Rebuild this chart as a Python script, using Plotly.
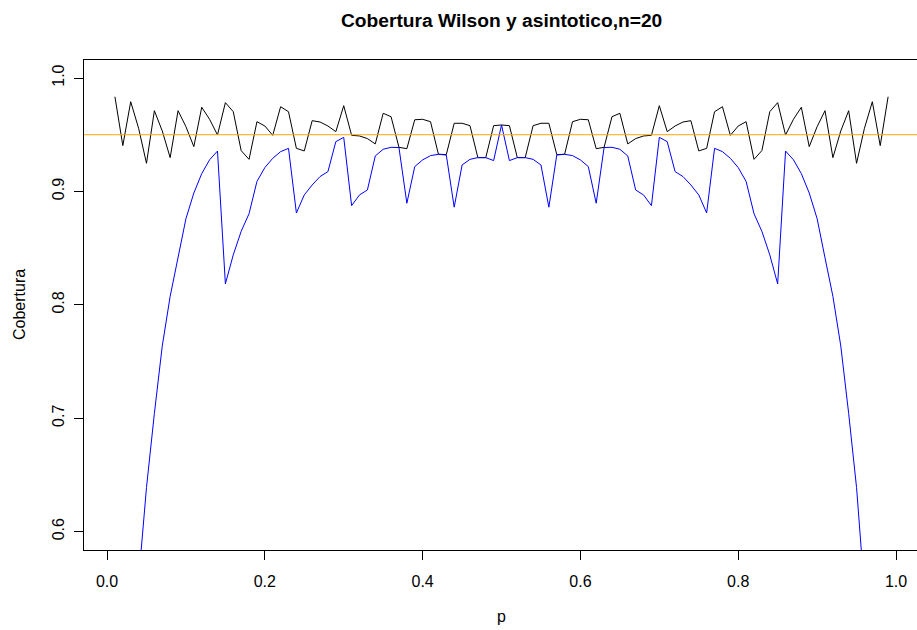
import plotly.graph_objects as go

# Success probability grid
p = [0.01, 0.02, 0.03, 0.04, 0.05, 0.06, 0.07, 0.08, 0.09, 0.10,
     0.11, 0.12, 0.13, 0.14, 0.15, 0.16, 0.17, 0.18, 0.19, 0.20,
     0.21, 0.22, 0.23, 0.24, 0.25, 0.26, 0.27, 0.28, 0.29, 0.30,
     0.31, 0.32, 0.33, 0.34, 0.35, 0.36, 0.37, 0.38, 0.39, 0.40,
     0.41, 0.42, 0.43, 0.44, 0.45, 0.46, 0.47, 0.48, 0.49, 0.50,
     0.51, 0.52, 0.53, 0.54, 0.55, 0.56, 0.57, 0.58, 0.59, 0.60,
     0.61, 0.62, 0.63, 0.64, 0.65, 0.66, 0.67, 0.68, 0.69, 0.70,
     0.71, 0.72, 0.73, 0.74, 0.75, 0.76, 0.77, 0.78, 0.79, 0.80,
     0.81, 0.82, 0.83, 0.84, 0.85, 0.86, 0.87, 0.88, 0.89, 0.90,
     0.91, 0.92, 0.93, 0.94, 0.95, 0.96, 0.97, 0.98, 0.99]

# Coverage of the Wilson interval (n = 20)
cob_wilson = [0.9835, 0.9404, 0.9791, 0.9557, 0.9248, 0.9712, 0.9533, 0.9298, 0.9712, 0.9571,
              0.9395, 0.9742, 0.9636, 0.9498, 0.9783, 0.9703, 0.9360, 0.9283, 0.9615, 0.9577,
              0.9495, 0.9747, 0.9703, 0.9380, 0.9357, 0.9624, 0.9612, 0.9577, 0.9527, 0.9756,
              0.9495, 0.9489, 0.9466, 0.9419, 0.9689, 0.9659, 0.9389, 0.9377, 0.9632, 0.9636,
              0.9615, 0.9328, 0.9325, 0.9601, 0.9601, 0.9580, 0.9298, 0.9298, 0.9580, 0.9586,
              0.9580, 0.9298, 0.9298, 0.9580, 0.9601, 0.9601, 0.9325, 0.9328, 0.9615, 0.9636,
              0.9632, 0.9377, 0.9389, 0.9659, 0.9689, 0.9419, 0.9466, 0.9489, 0.9495, 0.9756,
              0.9527, 0.9577, 0.9612, 0.9624, 0.9357, 0.9380, 0.9703, 0.9747, 0.9495, 0.9577,
              0.9615, 0.9283, 0.9360, 0.9703, 0.9783, 0.9498, 0.9636, 0.9742, 0.9395, 0.9571,
              0.9712, 0.9298, 0.9533, 0.9712, 0.9248, 0.9557, 0.9791, 0.9404, 0.9835]

# Coverage of the asymptotic (Wald) interval (n = 20)
cob_asint = [0.1821, 0.3318, 0.4560, 0.5571, 0.6389, 0.7043, 0.7638, 0.8075, 0.8415, 0.8760,
             0.8986, 0.9157, 0.9279, 0.9356, 0.8185, 0.8441, 0.8648, 0.8804, 0.9088, 0.9210,
             0.9292, 0.9351, 0.9380, 0.8810, 0.8969, 0.9057, 0.9131, 0.9175, 0.9439, 0.9477,
             0.8875, 0.8969, 0.9013, 0.9313, 0.9372, 0.9389, 0.9387, 0.8896, 0.9219, 0.9278,
             0.9316, 0.9327, 0.9321, 0.8861, 0.9233, 0.9283, 0.9298, 0.9298, 0.9272, 0.9586,
             0.9272, 0.9298, 0.9298, 0.9283, 0.9233, 0.8861, 0.9321, 0.9327, 0.9316, 0.9278,
             0.9219, 0.8896, 0.9387, 0.9389, 0.9372, 0.9313, 0.9013, 0.8969, 0.8875, 0.9477,
             0.9439, 0.9175, 0.9131, 0.9057, 0.8969, 0.8810, 0.9380, 0.9351, 0.9292, 0.9210,
             0.9088, 0.8804, 0.8648, 0.8441, 0.8185, 0.9356, 0.9279, 0.9157, 0.8986, 0.8760,
             0.8415, 0.8075, 0.7638, 0.7043, 0.6389, 0.5571, 0.4560, 0.3318, 0.1821]

nivel = 0.95

x_ticks = [0.0, 0.2, 0.4, 0.6, 0.8, 1.0]
x_ticktext = ["0.0", "0.2", "0.4", "0.6", "0.8", "1.0"]
y_ticks = [0.6, 0.7, 0.8, 0.9, 1.0]
y_ticktext = ["0.6", "0.7", "0.8", "0.9", "1.0"]

FONT = "Liberation Sans, Arial, Helvetica, sans-serif"

fig = go.Figure()
fig.add_trace(go.Scatter(x=p, y=cob_wilson, mode="lines",
                         line=dict(color="black", width=1), showlegend=False))
fig.add_trace(go.Scatter(x=p, y=cob_asint, mode="lines",
                         line=dict(color="blue", width=1), showlegend=False))

# horizontal reference at the nominal level
fig.add_shape(type="line", xref="paper", x0=0, x1=1, yref="y", y0=nivel, y1=nivel,
              line=dict(color="orange", width=1), layer="above")

fig.update_layout(
    width=917, height=630,
    margin=dict(l=84, r=0, t=60, b=80),
    paper_bgcolor="white", plot_bgcolor="white",
    font=dict(family=FONT, size=16, color="black"),
    xaxis=dict(range=[-0.0292, 1.0266], tickmode="array", tickvals=x_ticks,
               ticktext=x_ticktext, ticks="outside", ticklen=9, tickwidth=1,
               tickcolor="black", showline=True, linecolor="black", linewidth=1,
               mirror=True, showgrid=False, zeroline=False,
               tickfont=dict(family=FONT, size=16, color="black"),
               ticklabelstandoff=8),
    yaxis=dict(range=[0.5838, 1.0159], tickmode="array", tickvals=y_ticks,
               ticktext=y_ticktext, ticks="outside", ticklen=9, tickwidth=1,
               tickcolor="black", showline=True, linecolor="black", linewidth=1,
               showgrid=False, zeroline=False, tickangle=-90,
               tickfont=dict(family=FONT, size=16, color="black"),
               ticklabelstandoff=4),
    annotations=[
        dict(text="<b>Cobertura Wilson y asintotico,n=20</b>", xref="paper", yref="paper",
             x=0.5012, y=1 + (60 - 21) / 490, xanchor="center", yanchor="middle",
             showarrow=False, font=dict(family=FONT, size=19.2, color="black")),
        dict(text="p", xref="paper", yref="paper", x=0.5012, y=-(616 - 550) / 490,
             xanchor="center", yanchor="middle", showarrow=False,
             font=dict(family=FONT, size=16, color="black")),
        dict(text="Cobertura", xref="paper", yref="paper", x=-(84 - 19) / 833,
             y=(550 - 305) / 490, xanchor="center", yanchor="middle", textangle=-90,
             showarrow=False, font=dict(family=FONT, size=16, color="black")),
    ],
)

fig.write_html("out.html")
